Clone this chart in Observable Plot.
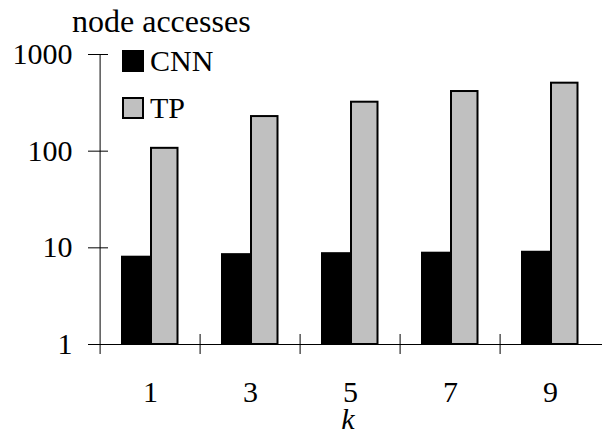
<!DOCTYPE html>
<html><head><meta charset="utf-8">
<script src="https://cdn.jsdelivr.net/npm/d3@7"></script>
<script src="https://cdn.jsdelivr.net/npm/@observablehq/plot@0.6"></script>
<style>
body{margin:0;background:#fff;}
#wrap{position:relative;width:602px;height:440px;font-family:'Liberation Serif',serif;color:#000;}
#title{position:absolute;left:72px;top:5px;font-family:'Liberation Serif',serif;font-size:32px;line-height:32px;white-space:nowrap;}
.leg{position:absolute;left:122px;font-family:'Liberation Serif',serif;font-size:30px;line-height:30px;display:flex;align-items:center;white-space:nowrap;}
.sw{width:18px;height:18px;border:2px solid #000;margin-right:6px;}
</style></head><body><div id="wrap"></div>
<script>
const ks = ["1", "3", "5", "7", "9"];
const series = ["CNN", "TP"];
const cnn = [8.0, 8.5, 8.7, 8.8, 9.0];
const tp = [107, 228, 321, 414, 505];
const yTicks = [1, 10, 100, 1000];
const colors = ["#000000", "#c0c0c0"];
const title = "node accesses";
const xLabel = "k";

const rows = ks.flatMap((k, i) => [
  {k, s: series[0], v: cnn[i]},
  {k, s: series[1], v: tp[i]}
]);

const W = 602, H = 440, mL = 98, mR = 0, mT = 54, mB = 96;
const step = (W - mL - mR) / ks.length;

const chart = Plot.plot({
  width: W, height: H,
  marginLeft: mL, marginRight: mR, marginTop: mT, marginBottom: mB,
  style: "font-family:'Liberation Serif',serif;font-size:30px;color:#000;background:#fff;",
  x: {type: "band", domain: ks, padding: 0, axis: null},
  y: {type: "log", domain: [1, 1000], axis: null},
  color: {domain: series, range: colors},
  marks: [
    Plot.barY(rows.filter(d => d.s === series[0]), {x: "k", y1: 1, y2: "v", fill: "s", stroke: "#000", strokeWidth: 2, insetLeft: 22, insetRight: 50}),
    Plot.barY(rows.filter(d => d.s === series[1]), {x: "k", y1: 1, y2: "v", fill: "s", stroke: "#000", strokeWidth: 2, insetLeft: 51, insetRight: 22.5}),
    Plot.ruleY([1], {y: d => d, insetLeft: -10, stroke: "#000", strokeWidth: 1}),
    Plot.ruleX([ks[0]], {x: d => d, dx: -step / 2, insetBottom: -10, stroke: "#000", strokeWidth: 1}),
    Plot.ruleX(ks.slice(1), {x: d => d, dx: -step / 2, insetTop: 280, insetBottom: -10, stroke: "#000", strokeWidth: 1}),
    Plot.tickY(yTicks, {y: d => d, insetLeft: -10, insetRight: W - mL - mR - 10, stroke: "#000", strokeWidth: 1}),
    Plot.axisY(yTicks, {tickSize: 0, tickPadding: 26, fontSize: 30, tickFormat: d => String(d), label: null}),
    Plot.axisX({tickSize: 0, tickPadding: 36.5, fontSize: 30, label: null}),
    Plot.text([xLabel], {text: d => d, frameAnchor: "bottom", dy: 84, dx: -2.5, fontSize: 30, fontStyle: "italic"})
  ]
});

const wrap = document.getElementById("wrap");
wrap.appendChild(chart);

const t = document.createElement("div");
t.id = "title";
t.textContent = title;
wrap.appendChild(t);

const legTops = [46, 93];
series.forEach((s, i) => {
  const row = document.createElement("div");
  row.className = "leg";
  row.style.top = legTops[i] + "px";
  const sw = document.createElement("span");
  sw.className = "sw";
  sw.style.background = colors[i];
  const lab = document.createElement("span");
  lab.textContent = s;
  row.appendChild(sw);
  row.appendChild(lab);
  wrap.appendChild(row);
});
</script></body></html>
